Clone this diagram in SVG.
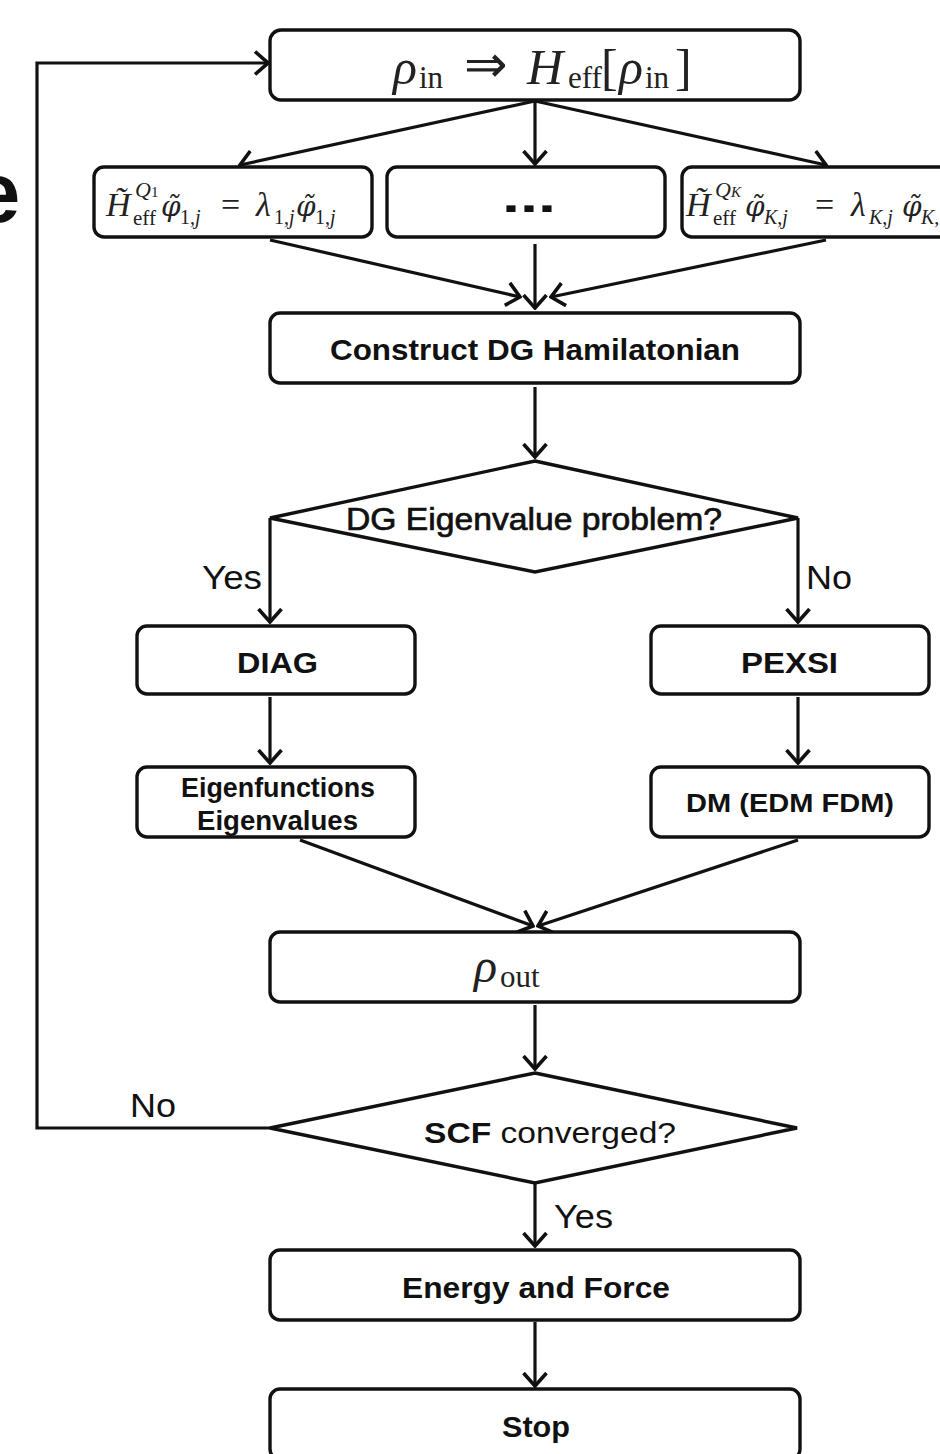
<svg xmlns="http://www.w3.org/2000/svg" width="940" height="1454" viewBox="0 0 940 1454">
<style>
.box{fill:#fff;stroke:#111;stroke-width:3.4}
.dia{fill:#fff;stroke:#111;stroke-width:3.4;stroke-linejoin:miter}
.ln{fill:none;stroke:#111;stroke-width:3.2;marker-end:url(#ah)}
.lb{font-family:"Liberation Sans",Arial,sans-serif;font-weight:bold;fill:#111}
.lr{font-family:"Liberation Sans",Arial,sans-serif;fill:#111}
.mi{font-family:"Liberation Serif","Times New Roman",serif;font-style:italic;fill:#222}
.mu{font-family:"Liberation Serif","Times New Roman",serif;fill:#222}
.ph{font-family:"DejaVu Serif",serif;font-style:italic;fill:#222;font-size:28px}
</style>
<defs>
<marker id="ah" viewBox="0 0 16 26" refX="14" refY="13" markerWidth="16" markerHeight="26" markerUnits="userSpaceOnUse" orient="auto">
<path d="M1,1.5 L14,13 L1,24.5" fill="none" stroke="#111" stroke-width="3.6"/>
</marker>
</defs>
<rect width="940" height="1454" fill="#fff"/>
<text class="lb" x="-27" y="222" font-size="85">e</text>

<g id="connectors">
<path class="ln" d="M535,101 L240,165"/>
<path class="ln" d="M535,101 L535,164"/>
<path class="ln" d="M535,101 L826,165"/>
<path class="ln" d="M270,240 L520,297"/>
<path class="ln" d="M535,244 L535,308"/>
<path class="ln" d="M826,240 L551,297"/>
<path class="ln" d="M535,387 L535,457"/>
<path class="ln" d="M270,518 L270,622"/>
<path class="ln" d="M798,518 L798,622"/>
<path class="ln" d="M270,697 L270,763"/>
<path class="ln" d="M798,697 L798,763"/>
<path class="ln" d="M300,840 L533,926"/>
<path class="ln" d="M798,840 L538,926"/>
<path class="ln" d="M535,1005 L535,1069"/>
<path class="ln" d="M535,1183 L535,1246"/>
<path class="ln" d="M535,1322 L535,1386"/>
<path class="ln" d="M270,1128 L37,1128 L37,63 L268,63"/>
</g>

<g id="n_top">
<rect class="box" x="270" y="30" width="530" height="70" rx="11"/>
<text class="mi" x="393" y="84" font-size="50">ρ</text>
<text class="mu" x="419" y="88" font-size="31">in</text>
<text class="mu" x="464" y="82" font-size="52">⇒</text>
<text class="mi" x="527" y="84" font-size="50">H</text>
<text class="mu" x="568" y="88" font-size="31">eff</text>
<text class="mu" x="601" y="84" font-size="50">[</text>
<text class="mi" x="619" y="84" font-size="50">ρ</text>
<text class="mu" x="645" y="88" font-size="31">in</text>
<text class="mu" x="675" y="84" font-size="50">]</text>
</g>

<g id="n_left">
<rect class="box" x="94" y="167" width="278" height="70" rx="10"/>
<text class="mi" x="106" y="216" font-size="34">H̃</text>
<text class="mi" x="135" y="197" font-size="22">Q<tspan font-style="normal" font-size="15">1</tspan></text>
<text class="mu" x="133" y="225" font-size="21">eff</text>
<text class="ph" x="161" y="216">φ̃</text>
<text class="mu" x="180" y="224" font-size="20">1,<tspan font-style="italic">j</tspan></text>
<text class="mu" x="221" y="216" font-size="34">=</text>
<text class="mi" x="256" y="216" font-size="34">λ</text>
<text class="mu" x="274" y="224" font-size="20">1,<tspan font-style="italic">j</tspan></text>
<text class="ph" x="296" y="216">φ̃</text>
<text class="mu" x="315" y="224" font-size="20">1,<tspan font-style="italic">j</tspan></text>
</g>

<g id="n_mid">
<rect class="box" x="387" y="167" width="278" height="70" rx="10"/>
<text class="lb" x="502" y="212" font-size="44" textLength="54" lengthAdjust="spacingAndGlyphs">...</text>
</g>

<g id="n_right">
<rect class="box" x="682" y="167" width="270" height="70" rx="10"/>
<text class="mi" x="686" y="216" font-size="34">H̃</text>
<text class="mi" x="715" y="197" font-size="22">Q<tspan font-size="15">K</tspan></text>
<text class="mu" x="713" y="225" font-size="21">eff</text>
<text class="ph" x="745" y="216">φ̃</text>
<text class="mi" x="764" y="224" font-size="20">K<tspan font-style="normal">,</tspan>j</text>
<text class="mu" x="815" y="216" font-size="34">=</text>
<text class="mi" x="851" y="216" font-size="34">λ</text>
<text class="mi" x="869" y="224" font-size="20">K<tspan font-style="normal">,</tspan>j</text>
<text class="ph" x="902" y="216">φ̃</text>
<text class="mi" x="921" y="224" font-size="20">K<tspan font-style="normal">,</tspan></text>
</g>

<g id="n_construct">
<rect class="box" x="270" y="313" width="530" height="70" rx="10"/>
<text class="lb" x="330" y="360" font-size="30" textLength="410" lengthAdjust="spacingAndGlyphs">Construct DG Hamilatonian</text>
</g>

<g id="n_dgdecision">
<polygon class="dia" points="535,461 798,518 535,572 270,518"/>
<text class="lr" x="346" y="530" font-size="31" textLength="376" lengthAdjust="spacingAndGlyphs" stroke="#111" stroke-width="0.7">DG Eigenvalue problem?</text>
</g>
<text class="lr" x="202" y="589" font-size="33" textLength="60" lengthAdjust="spacingAndGlyphs">Yes</text>
<text class="lr" x="806" y="589" font-size="33" textLength="46" lengthAdjust="spacingAndGlyphs">No</text>

<g id="n_diag">
<rect class="box" x="137" y="626" width="278" height="68" rx="10"/>
<text class="lb" x="237" y="673" font-size="29" textLength="81" lengthAdjust="spacingAndGlyphs">DIAG</text>
</g>

<g id="n_pexsi">
<rect class="box" x="651" y="626" width="278" height="68" rx="10"/>
<text class="lb" x="741" y="673" font-size="29" textLength="97" lengthAdjust="spacingAndGlyphs">PEXSI</text>
</g>

<g id="n_eigen">
<rect class="box" x="137" y="767" width="278" height="70" rx="10"/>
<text class="lb" x="181" y="797" font-size="27" textLength="194" lengthAdjust="spacingAndGlyphs">Eigenfunctions</text>
<text class="lb" x="197" y="830" font-size="27" textLength="161" lengthAdjust="spacingAndGlyphs">Eigenvalues</text>
</g>

<g id="n_dm">
<rect class="box" x="651" y="767" width="278" height="70" rx="10"/>
<text class="lb" x="686" y="812" font-size="26" textLength="208" lengthAdjust="spacingAndGlyphs">DM (EDM FDM)</text>
</g>

<g id="n_rhoout">
<rect class="box" x="270" y="932" width="530" height="70" rx="10"/>
<text class="mi" x="474" y="982" font-size="48">ρ</text>
<text class="mu" x="500" y="987" font-size="31">out</text>
</g>

<g id="n_scf">
<polygon class="dia" points="535,1073 797,1128 535,1183 270,1128"/>
<text class="lr" x="424" y="1143" font-size="30" textLength="252" lengthAdjust="spacingAndGlyphs"><tspan font-weight="bold">SCF</tspan> converged?</text>
</g>
<text class="lr" x="130" y="1117" font-size="33" textLength="46" lengthAdjust="spacingAndGlyphs">No</text>
<text class="lr" x="554" y="1228" font-size="33" textLength="59" lengthAdjust="spacingAndGlyphs">Yes</text>

<g id="n_energy">
<rect class="box" x="270" y="1250" width="530" height="70" rx="10"/>
<text class="lb" x="402" y="1298" font-size="30" textLength="268" lengthAdjust="spacingAndGlyphs">Energy and Force</text>
</g>

<g id="n_stop">
<rect class="box" x="270" y="1389" width="530" height="70" rx="10"/>
<text class="lb" x="502" y="1437" font-size="29" textLength="68" lengthAdjust="spacingAndGlyphs">Stop</text>
</g>
</svg>
